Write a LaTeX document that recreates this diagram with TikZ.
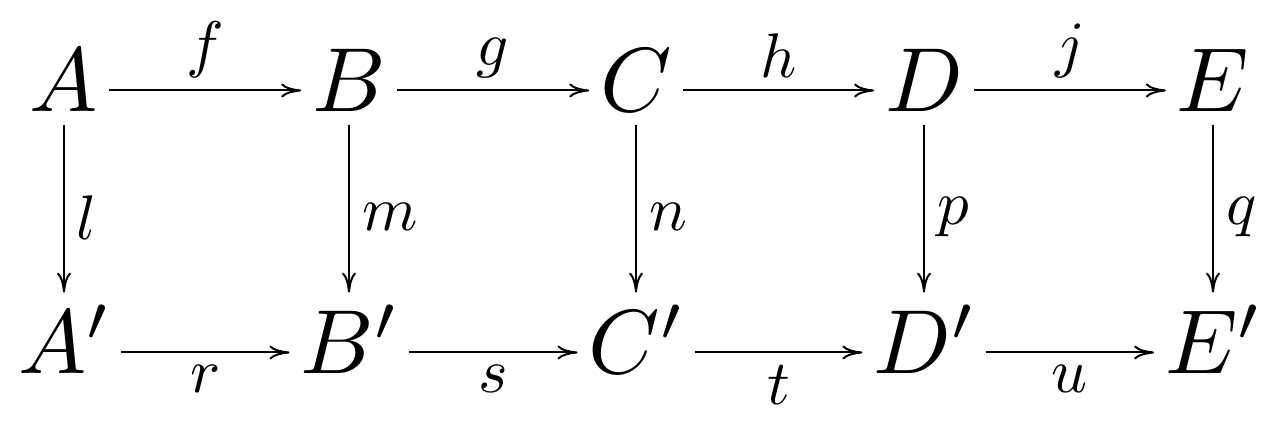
\documentclass[tikz,border=0pt]{standalone}
\usepackage{fix-cm}
\DeclareFontShape{OML}{cmm}{m}{it}{<-> cmmi10}{\skewchar\font127 }
\DeclareFontShape{OMS}{cmsy}{m}{n}{<-13.5> cmsy7 <13.5-> cmsy10}{\skewchar\font48 }
\usetikzlibrary{arrows.meta}
\begin{document}
\begin{tikzpicture}[x=0.2pt,y=-0.2pt,
  obj/.style={anchor=base, inner xsep=2pt, inner ysep=2.4pt, font=\fontsize{18.2}{22}\selectfont},
  mor/.style={line width=0.4pt, -{Computer Modern Rightarrow[length=4pt,width=2.8pt]}},
  lab/.style={inner sep=2.4pt, font=\fontsize{12.6}{15}\selectfont},
  ax/.style={yshift=4.3pt}
]
\useasboundingbox (0,0) rectangle (1280,434);
% top row
\node[obj] (A) at (64,112) {$A$};
\node[obj] (B) at (349,112) {$B$};
\node[obj] (C) at (636,112) {$C$};
\node[obj] (D) at (924,112) {$D$};
\node[obj] (E) at (1213,112) {$E$};
% bottom row
\node[obj] (A2) at (64,374) {$A'$};
\node[obj] (B2) at (349,374) {$B'$};
\node[obj] (C2) at (636,374) {$C'$};
\node[obj] (D2) at (924,374) {$D'$};
\node[obj] (E2) at (1213,374) {$E'$};
% horizontal top
\draw[mor] ([ax]A.base east) -- node[lab,above] {$f$} ([ax]B.base west);
\draw[mor] ([ax]B.base east) -- node[lab,above] {$g$} ([ax]C.base west);
\draw[mor] ([ax]C.base east) -- node[lab,above] {$h$} ([ax]D.base west);
\draw[mor] ([ax]D.base east) -- node[lab,above] {$j$} ([ax]E.base west);
% horizontal bottom
\draw[mor] ([ax]A2.base east) -- node[lab,below] {$r$} ([ax]B2.base west);
\draw[mor] ([ax]B2.base east) -- node[lab,below] {$s$} ([ax]C2.base west);
\draw[mor] ([ax]C2.base east) -- node[lab,below] {$t$} ([ax]D2.base west);
\draw[mor] ([ax]D2.base east) -- node[lab,below] {$u$} ([ax]E2.base west);
% vertical
\draw[mor] (A.south) -- node[lab,right,pos=0.55] {$l$} (A.south |- A2.north);
\draw[mor] (B.south) -- node[lab,right,pos=0.55] {$m$} (B.south |- B2.north);
\draw[mor] (C.south) -- node[lab,right,pos=0.55] {$n$} (C.south |- C2.north);
\draw[mor] (D.south) -- node[lab,right,pos=0.55] {$p$} (D.south |- D2.north);
\draw[mor] (E.south) -- node[lab,right,pos=0.55] {$q$} (E.south |- E2.north);
\end{tikzpicture}
\end{document}
